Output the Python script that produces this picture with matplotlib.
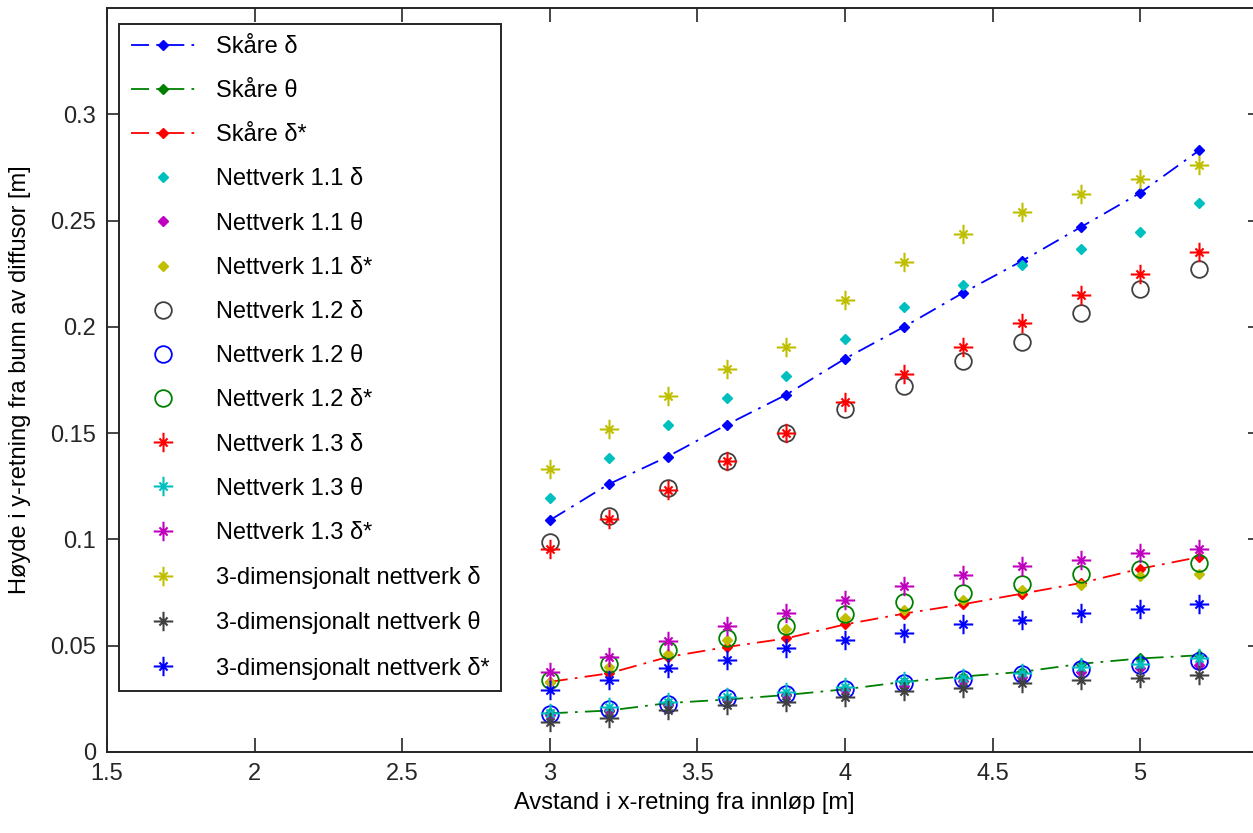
import matplotlib
matplotlib.use("Agg")
import matplotlib.pyplot as plt
from matplotlib.path import Path

x = [3.0, 3.2, 3.4, 3.6, 3.8, 4.0, 4.2, 4.4, 4.6, 4.8, 5.0, 5.2]

skare_d = [0.109, 0.126, 0.139, 0.154, 0.168, 0.185, 0.200, 0.216, 0.231, 0.247, 0.263, 0.283]
skare_t = [0.0182, 0.0195, 0.0230, 0.0247, 0.0268, 0.0295, 0.033, 0.0355, 0.0377, 0.0415, 0.044, 0.0455]
skare_ds = [0.033, 0.037, 0.0447, 0.0494, 0.0534, 0.060, 0.0651, 0.0695, 0.0745, 0.0795, 0.0862, 0.0917]

n11_d = [0.1196, 0.1383, 0.154, 0.1665, 0.177, 0.1945, 0.2094, 0.2197, 0.229, 0.2365, 0.2448, 0.2584]
n11_t = [0.0172, 0.0198, 0.0222, 0.0245, 0.0268, 0.029, 0.031, 0.0335, 0.0355, 0.0375, 0.0395, 0.041]
n11_ds = [0.033, 0.040, 0.046, 0.0529, 0.058, 0.0632, 0.067, 0.0717, 0.076, 0.0784, 0.0826, 0.0839]

n12_d = [0.0987, 0.111, 0.124, 0.1368, 0.1499, 0.1615, 0.1723, 0.184, 0.193, 0.2063, 0.2177, 0.2271]
n12_t = [0.0178, 0.0203, 0.0228, 0.0252, 0.0275, 0.0298, 0.0325, 0.0345, 0.0365, 0.039, 0.041, 0.043]
n12_ds = [0.0341, 0.0412, 0.0482, 0.0538, 0.0592, 0.0648, 0.0706, 0.0749, 0.0792, 0.0836, 0.0862, 0.089]

n13_d = [0.0956, 0.1097, 0.1233, 0.1371, 0.150, 0.1645, 0.178, 0.1906, 0.202, 0.2149, 0.225, 0.2354]
n13_t = [0.0185, 0.021, 0.0235, 0.026, 0.028, 0.0305, 0.0335, 0.035, 0.037, 0.040, 0.0415, 0.044]
n13_ds = [0.0377, 0.0447, 0.0523, 0.0592, 0.0654, 0.0717, 0.0779, 0.0834, 0.0875, 0.0905, 0.0936, 0.0956]

d3_d = [0.1332, 0.152, 0.1676, 0.180, 0.1906, 0.2125, 0.2305, 0.2438, 0.2541, 0.2626, 0.2696, 0.2761]
d3_t = [0.0142, 0.0158, 0.0197, 0.0221, 0.0236, 0.026, 0.0285, 0.030, 0.0325, 0.034, 0.035, 0.036]
d3_ds = [0.0291, 0.0338, 0.0396, 0.0435, 0.0487, 0.0529, 0.056, 0.0601, 0.0623, 0.0654, 0.0674, 0.0695]

labels = ["Skåre δ", "Skåre θ", "Skåre δ*",
          "Nettverk 1.1 δ", "Nettverk 1.1 θ", "Nettverk 1.1 δ*",
          "Nettverk 1.2 δ", "Nettverk 1.2 θ", "Nettverk 1.2 δ*",
          "Nettverk 1.3 δ", "Nettverk 1.3 θ", "Nettverk 1.3 δ*",
          "3-dimensjonalt nettverk δ", "3-dimensjonalt nettverk θ", "3-dimensjonalt nettverk δ*"]
xticks = [1.5, 2, 2.5, 3, 3.5, 4, 4.5, 5]
yticks = [0, 0.05, 0.1, 0.15, 0.2, 0.25, 0.3]
yticklabels = ["0", "0.05", "0.1", "0.15", "0.2", "0.25", "0.3"]

FONT = ["Liberation Sans", "DejaVu Sans"]
FS = 17
plt.rcParams["font.family"] = FONT
plt.rcParams["font.size"] = FS

BLUE, GREEN, RED = "#0000FF", "#008000", "#FF0000"
CYAN, MAG, YEL, GRAY = "#00BFBF", "#BF00BF", "#BFBF00", "#404040"

# MATLAB-like asterisk marker: long plus arms, short diagonal arms
a = 1.0
b = 0.42
verts = [(-a, 0), (a, 0), (0, -a), (0, a), (-b, -b), (b, b), (-b, b), (b, -b)]
codes = [Path.MOVETO, Path.LINETO] * 4
ASTER = Path(verts, codes)

fig = plt.figure(figsize=(12.53, 8.33), dpi=100)
ax = fig.add_axes([107 / 1253, 81 / 833, 1155 / 1253, 744 / 833])

dashdot = (0, (10, 4, 1.5, 4))
ax.plot(x, skare_d, color=BLUE, ls=dashdot, lw=1.3, marker="D", ms=5, label=labels[0])
ax.plot(x, skare_t, color=GREEN, ls=dashdot, lw=1.3, marker="D", ms=5, label=labels[1])
ax.plot(x, skare_ds, color=RED, ls=dashdot, lw=1.3, marker="D", ms=5, label=labels[2])

ax.plot(x, n11_d, ls="none", color=CYAN, marker="D", ms=5.5, label=labels[3])
ax.plot(x, n11_t, ls="none", color=MAG, marker="D", ms=5.5, label=labels[4])
ax.plot(x, n11_ds, ls="none", color=YEL, marker="D", ms=5.5, label=labels[5])

ax.plot(x, n12_d, ls="none", color=GRAY, marker="o", ms=12, mfc="none", mew=1.3, label=labels[6])
ax.plot(x, n12_t, ls="none", color=BLUE, marker="o", ms=12, mfc="none", mew=1.3, label=labels[7])
ax.plot(x, n12_ds, ls="none", color=GREEN, marker="o", ms=12, mfc="none", mew=1.3, label=labels[8])

for data, col, lab in [(n13_d, RED, labels[9]), (n13_t, CYAN, labels[10]), (n13_ds, MAG, labels[11]),
                       (d3_d, YEL, labels[12]), (d3_t, GRAY, labels[13]), (d3_ds, BLUE, labels[14])]:
    ax.plot(x, data, ls="none", color=col, marker=ASTER, ms=14, mew=1.5, label=lab)

ax.set_xlim(1.5, 5.413)
ax.set_ylim(0, 0.35)
ax.set_xticks(xticks)
ax.set_xticklabels([("%g" % t) for t in xticks])
ax.set_yticks(yticks)
ax.set_yticklabels(yticklabels)
ax.tick_params(direction="in", length=10, width=1.2, top=True, right=True,
               labelsize=FS, colors="#262626", pad=8)
for s in ax.spines.values():
    s.set_linewidth(1.4)
    s.set_color("#262626")

ax.set_xlabel("Avstand i x-retning fra innløp [m]", fontsize=FS, labelpad=5)
ax.set_ylabel("Høyde i y-retning fra bunn av diffusor [m]", fontsize=FS, labelpad=14)

leg = ax.legend(loc="upper left", bbox_to_anchor=(119 / 1253, 1 - 24 / 833),
                bbox_transform=fig.transFigure, borderaxespad=0, fontsize=FS,
                numpoints=1, handlelength=2.7, handletextpad=0.9, borderpad=0.5,
                labelspacing=0.94, fancybox=False, framealpha=1)
leg.get_frame().set_edgecolor("#262626")
leg.get_frame().set_linewidth(1.4)

fig.savefig("out.png", dpi=100)
